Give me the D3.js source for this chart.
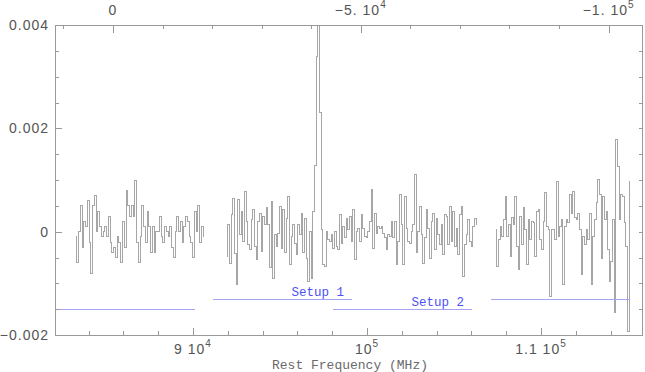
<!DOCTYPE html>
<html>
<head>
<meta charset="utf-8">
<script src="https://cdn.jsdelivr.net/npm/d3@7"></script>
<style>
  body { margin: 0; background: #fff; }
  svg { display: block; }
  .num { font-family: "Liberation Sans", sans-serif; font-size: 14px; letter-spacing: 1px; fill: #555; white-space: pre; }
  .mono { font-family: "Liberation Mono", monospace; white-space: pre; }
</style>
</head>
<body>
<svg id="chart" width="645" height="372"></svg>
<script>
// spectrum values in units of 1e-4 (same unit as the y axis / 10)
const UNIT = 1e-4;

// segment A, channels from 83280 to 90630 MHz
const segAFreq = [83280, 90630];
const segAValues = [-1, -6, 0, 5, -3, 2, 1, 6, -2, -8, 5, 7, 0, 4, 1, -1, 0, 1, -1, 3,
  -2, -4, -3, -5, -1, -2, -6, 2, -3, 8, 5, 3, 5, 3, 10, -2, -6, -1, 5, 1,
  -2, 4, 1, -4, 1, -4, 0, 0, 3, -1, -2, 1, 0, -1, 1, -3, -5, 0, 3, 0,
  2, -2, 1, 3, 2, -1, -2, -5, 4, 0, 5, -2, 1, -1];

// segment B, channels from 91950 to 106320 MHz (line near 97.2 GHz)
const segBFreq = [91950, 106320];
const segBValues = [-4.8, 1.4, -6.1, 3.3, 6.5, -4.2, -10.3, 6.2, -0.6, 3.9, -1.9, 7.8, 2.0, -2.5, -3.5, 2.3, 4.3, -2.8, -5.4, 2.0,
  3.6, -3.8, 3.0, 1.4, 4.6, 1.4, -7.0, 5.9, -9.0, -0.6, -2.8, -0.3, 4.9, -3.2, 4.3, -4.1, 2.6, 6.8, -6.4, -0.9,
  1.4, -2.2, -4.5, 1.4, -0.6, 3.6, -4.1, 2.6, -5.1, -9.6, 0.1, -9.0, 3.9, 12.8, 34, 48, 23, 0.4, -6.4, -6.7,
  0.1, -1.5, -1.9, -0.6, -3.2, 0.1, -2.8, -3.5, 3.3, -2.2, 1.0, -1.2, 2.6, 0.4, 3.0, -1.9,
  4.3, -5.4, 0.1, 0.7, -1.9, 3.3, 0.7, -0.9, -1.2, 0.1, 2.0, 8.1, -3.2, 3.6, -0.3, 1.0, 0.7, 1.0, -0.3, -1.2,
  -3.5, -0.6, -0.9, 2.0, -1.2, 2.0, -6.4, -1.9, 7.2, 1.4, -6.4, 6.8, 0.7, -1.9, -2.2, 0.1, 1.4, 11.0, -4.1, 0.1,
  4.9, -0.6, -6.1, -1.2, 4.3, 0.7, -5.1, 2.0, 3.6, -3.5, 2.6, -0.6, -2.5, 1.4, -4.5, 3.3, 3.0, -2.5, 4.9, -1.9,
  3.9, -2.8, 0.7, -4.5, 3.3, 4.9, -8.6, -2.5, -0.6, 2.3, -1.9, -2.8, 1.0, 2.6, 1.4];

// segment C, channels from 107410 to 115115 MHz
const segCFreq = [107410, 115115];
const segCValues = [0.4, -6.7, -1.5, 1.0, -0.9, 2.3, 6.8, -0.9, 1.4, -4.8, 2.7, 1.4, 6.8, -2.8, -7.4, 3.0, -2.5, 4.6, 0.4, -6.4,
  2.3, -1.5, 2.0, 1.7, -4.8, 4.0, 4.3, -1.5, -3.5, 2.0, 7.5, 1.0, 0.4, -12.5, 0.4, 0.4, -1.5, 9.7, -0.9, 1.0,
  2.3, -10.3, 1.0, 2.3, 1.7, 7.2, 3.6, 7.8, 2.7, 2.3, 3.6, 0.4, -8.3, -0.9, -2.5, 0.4, -1.5, 3.6, -10.3, -0.9,
  2.3, 5.6, 10.1, 7.2, -5.1, 6.8, 2.3, 4.0, -3.5, -9.6, -5.7, 2.3, -15.7, 17.8, 12.6, 2.3, 7.2, 6.8, 1.7, -2.8,
  -19.4, 9.7];

// receiver setups: level and frequency ranges (MHz)
const setupNames = ["Setup 1", "Setup 2"];
const setupLevels = [-0.0013, -0.0015];
const setupRanges = [
  [[91150, 99140], [107130, 115120]],
  [[82000, 90110], [98050, 106040]]
];
const setupLabelRange = [0, 1];

// axes
const freqDomain = [82069, 115862];
const fluxDomain = [-0.002, 0.004];
const restFreq = 85400;      // MHz, zero velocity
const cLight = 299792.458;   // km/s
const bottomTicks = [90000, 100000, 110000];
const bottomLabels = [["9 10", "4"], ["10", "5"], ["1.1 10", "5"]];
const topTicks = [0, -50000, -100000];
const topLabels = [["0", ""], ["\u22125. 10", "4"], ["\u22121. 10", "5"]];
const leftTicks = [-0.002, 0, 0.002, 0.004];

const mLeft = 55, mRight = 643, mTop = 25, mBottom = 335;
const svg = d3.select("#chart");

const x = d3.scaleLinear().domain(freqDomain).range([mLeft, mRight]);
const y = d3.scaleLinear().domain(fluxDomain).range([mBottom, mTop]);
const vel = f => cLight * (1 - f / restFreq);
const xv = d3.scaleLinear().domain(freqDomain.map(vel)).range([mLeft, mRight]);

svg.append("clipPath").attr("id", "plot")
  .append("rect").attr("x", mLeft).attr("y", mTop)
  .attr("width", mRight - mLeft).attr("height", mBottom - mTop);

// spectrum
const segments = [
  [segAFreq, segAValues],
  [segBFreq, segBValues],
  [segCFreq, segCValues]
].map(([range, vals]) => {
  const ch = d3.scaleLinear().domain([0, vals.length - 1]).range(range);
  return vals.map((v, i) => ({ f: ch(i), v: v * UNIT }));
});

const line = d3.line().curve(d3.curveStep).x(d => x(d.f)).y(d => y(d.v));

svg.append("g").attr("clip-path", "url(#plot)")
  .selectAll("path.spec")
  .data(segments)
  .enter().append("path")
  .attr("class", "spec")
  .attr("d", line)
  .attr("fill", "none")
  .attr("stroke", "#a6a6a6")
  .attr("stroke-width", 1)
  .attr("shape-rendering", "crispEdges");

// setup bars
const setupG = svg.append("g").attr("clip-path", "url(#plot)");
setupNames.forEach((name, k) => {
  setupG.selectAll(null)
    .data(setupRanges[k])
    .enter().append("line")
    .attr("x1", d => x(d[0])).attr("x2", d => x(d[1]))
    .attr("y1", Math.round(y(setupLevels[k])) + 0.5)
    .attr("y2", Math.round(y(setupLevels[k])) + 0.5)
    .attr("stroke", "#a4a4f2")
    .attr("stroke-width", 1);
  const r = setupRanges[k][setupLabelRange[k]];
  setupG.append("text")
    .attr("class", "mono")
    .attr("x", x(r[1]) - 8)
    .attr("y", y(setupLevels[k]) - 3)
    .attr("text-anchor", "end")
    .attr("font-size", 12.5)
    .attr("fill", "#5050f8")
    .text(name);
});

// frame
svg.append("rect")
  .attr("x", mLeft + 0.5).attr("y", mTop + 0.5)
  .attr("width", mRight - mLeft - 1).attr("height", mBottom - mTop)
  .attr("fill", "none").attr("stroke", "#999")
  .attr("shape-rendering", "crispEdges");

// ticks (all pointing inward)
function ticks(axis, transform) {
  const g = svg.append("g").attr("transform", transform).call(axis);
  g.select(".domain").remove();
  g.selectAll("line").attr("stroke", "#999").attr("shape-rendering", "crispEdges");
  return g;
}

const minorF = d3.range(84000, 116000, 2000);
ticks(d3.axisBottom(x).tickValues(minorF).tickSize(-4).tickFormat(""), `translate(0,${mBottom})`);
ticks(d3.axisBottom(x).tickValues(bottomTicks).tickSize(-7).tickFormat(""), `translate(0,${mBottom})`);

const minorV = d3.range(10000, -120000, -10000);
ticks(d3.axisTop(xv).tickValues(minorV).tickSize(-4).tickFormat(""), `translate(0,${mTop})`);
ticks(d3.axisTop(xv).tickValues(topTicks).tickSize(-8).tickFormat(""), `translate(0,${mTop})`);

const minorY = d3.range(-0.002, 0.00401, 0.0005);
ticks(d3.axisLeft(y).tickValues(minorY).tickSize(-4).tickFormat(""), `translate(${mLeft},0)`);
const yAx = ticks(d3.axisLeft(y).tickValues(leftTicks).tickSize(-7).tickPadding(6)
  .tickFormat(d => d === 0 ? "0" : d3.format(".3f")(d)), `translate(${mLeft},0)`);
yAx.selectAll("text").attr("class", "num").attr("font-size", null).attr("font-family", null).attr("fill", null);
yAx.attr("font-size", null).attr("font-family", null);
ticks(d3.axisRight(y).tickValues(minorY).tickSize(-4).tickFormat(""), `translate(${mRight},0)`);

// tick labels with exponents
function powerLabels(vals, labels, scale, baseY) {
  const t = svg.append("g").selectAll("text")
    .data(vals)
    .enter().append("text")
    .attr("class", "num")
    .attr("x", d => scale(d))
    .attr("y", baseY)
    .attr("text-anchor", "middle");
  t.append("tspan").text((d, i) => labels[i][0]);
  t.append("tspan").attr("dy", -7).attr("font-size", 10).text((d, i) => labels[i][1]);
}
powerLabels(bottomTicks, bottomLabels, x, 354);
powerLabels(topTicks, topLabels, xv, 15);

svg.append("text")
  .attr("class", "mono")
  .attr("x", (mLeft + mRight) / 2 + 1)
  .attr("y", 369)
  .attr("text-anchor", "middle")
  .attr("font-size", 13)
  .attr("fill", "#6a6a6a")
  .text("Rest Frequency (MHz)");
</script>
</body>
</html>
